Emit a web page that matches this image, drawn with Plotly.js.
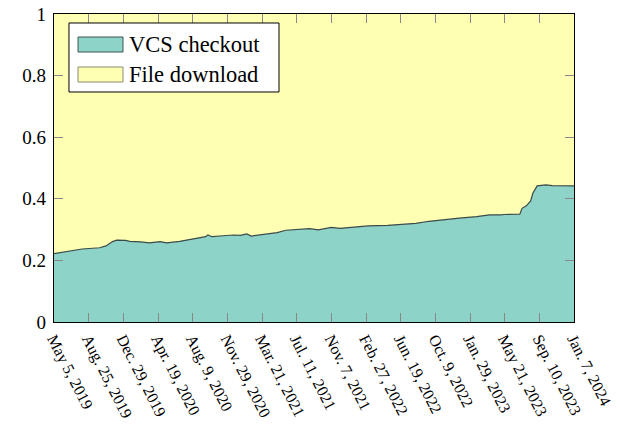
<!DOCTYPE html>
<html>
<head>
<meta charset="utf-8">
<script src="https://cdn.plot.ly/plotly-3.0.1.min.js"></script>
<style>html,body{margin:0;padding:0;background:#fff;}#chart{width:622px;height:425px;}</style>
</head>
<body>
<div id="chart"></div>
<script>
// Week index (weekly samples, 16 samples between ticks) and share of VCS checkouts
const weekIndex = [0, 7, 13, 21, 24, 27, 29, 33, 35, 40, 44, 49, 52, 58, 64, 70, 71, 73, 78, 83, 86, 89, 91, 96, 103, 107, 112, 118, 122, 125, 128, 132, 138, 145, 154, 162, 167, 173, 178, 187, 195, 201, 206, 208, 215, 216, 218, 220, 221, 222, 223, 227, 230, 240];
const vcsShare = [0.222, 0.230, 0.237, 0.241, 0.247, 0.261, 0.266, 0.265, 0.262, 0.260, 0.257, 0.261, 0.257, 0.262, 0.270, 0.277, 0.283, 0.277, 0.280, 0.2825, 0.2815, 0.2857, 0.279, 0.283, 0.290, 0.298, 0.301, 0.303, 0.299, 0.302, 0.307, 0.304, 0.308, 0.312, 0.314, 0.319, 0.320, 0.327, 0.331, 0.337, 0.342, 0.348, 0.348, 0.349, 0.350, 0.369, 0.377, 0.393, 0.418, 0.432, 0.442, 0.445, 0.4425, 0.442];
const fileShare = vcsShare.map(v => 1 - v);
const seriesNames = ["VCS checkout", "File download"];
const seriesColors = ["#8dd3c7", "#ffffb3"];
const tickIndex = [0, 16, 32, 48, 64, 80, 96, 112, 128, 144, 160, 176, 192, 208, 224, 240];
const tickLabels = ["May 5, 2019", "Aug. 25, 2019", "Dec. 29, 2019", "Apr. 19, 2020", "Aug. 9, 2020", "Nov. 29, 2020", "Mar. 21, 2021", "Jul. 11, 2021", "Nov. 7, 2021", "Feb. 27, 2022", "Jun. 19, 2022", "Oct. 9, 2022", "Jan. 29, 2023", "May 21, 2023", "Sep. 10, 2023", "Jan. 7, 2024"];
const yTicks = [0, 0.2, 0.4, 0.6, 0.8, 1];

const font = "'Liberation Serif', 'Times New Roman', serif";
const traces = [
  {x: weekIndex, y: vcsShare, name: seriesNames[0], type: "scatter", mode: "lines",
   stackgroup: "one", fillcolor: seriesColors[0], line: {color: "#3a4a48", width: 1.2}, showlegend: false},
  {x: weekIndex, y: fileShare, name: seriesNames[1], type: "scatter", mode: "lines",
   stackgroup: "one", fillcolor: seriesColors[1], line: {color: "#3a4a48", width: 0}, showlegend: false}
];
const axisCommon = {showline: true, linecolor: "#000", linewidth: 1.3, mirror: "ticks",
  ticks: "inside", ticklen: 9, tickcolor: "#888", tickwidth: 1, showgrid: false, zeroline: false};

// hand-built legend box (paper coordinates)
const legendBox = {x0: 0.0288, x1: 0.4327, y0: 0.7468, y1: 0.9708};
const swatchX = [0.0462, 0.1327];
const rowY = [[0.8766, 0.9253], [0.7792, 0.8279]];
const shapes = [
  {type: "rect", xref: "paper", yref: "paper", x0: legendBox.x0, x1: legendBox.x1, y0: legendBox.y0, y1: legendBox.y1,
   fillcolor: "#fff", line: {color: "#000", width: 1}}
];
const annotations = [];
const swatchBorder = ["#3d5550", "#8a8a70"];
seriesNames.forEach((n, i) => {
  shapes.push({type: "rect", xref: "paper", yref: "paper", x0: swatchX[0], x1: swatchX[1], y0: rowY[i][0], y1: rowY[i][1],
    fillcolor: seriesColors[i], line: {color: swatchBorder[i], width: 1}});
  annotations.push({xref: "paper", yref: "paper", x: 0.1404, y: (rowY[i][0] + rowY[i][1]) / 2, xanchor: "left", yanchor: "middle",
    text: n, showarrow: false, font: {family: font, size: 22.5, color: "#000"}});
});

const layout = {
  width: 622, height: 425,
  margin: {l: 54, r: 48, t: 14, b: 103},
  paper_bgcolor: "#fff", plot_bgcolor: "#fff",
  font: {family: font, color: "#000", size: 18},
  showlegend: false,
  shapes: shapes,
  annotations: annotations,
  xaxis: Object.assign({}, axisCommon, {range: [0, 240], tickmode: "array", tickvals: tickIndex,
    ticktext: tickLabels, tickangle: 63, tickfont: {size: 16, family: font}}),
  yaxis: Object.assign({}, axisCommon, {range: [0, 1], tickmode: "array", tickvals: yTicks,
    ticktext: yTicks.map(String), tickfont: {size: 19, family: font}, ticklabelstandoff: 3})
};
Plotly.newPlot("chart", traces, layout, {displayModeBar: false, staticPlot: true});
</script>
</body>
</html>
